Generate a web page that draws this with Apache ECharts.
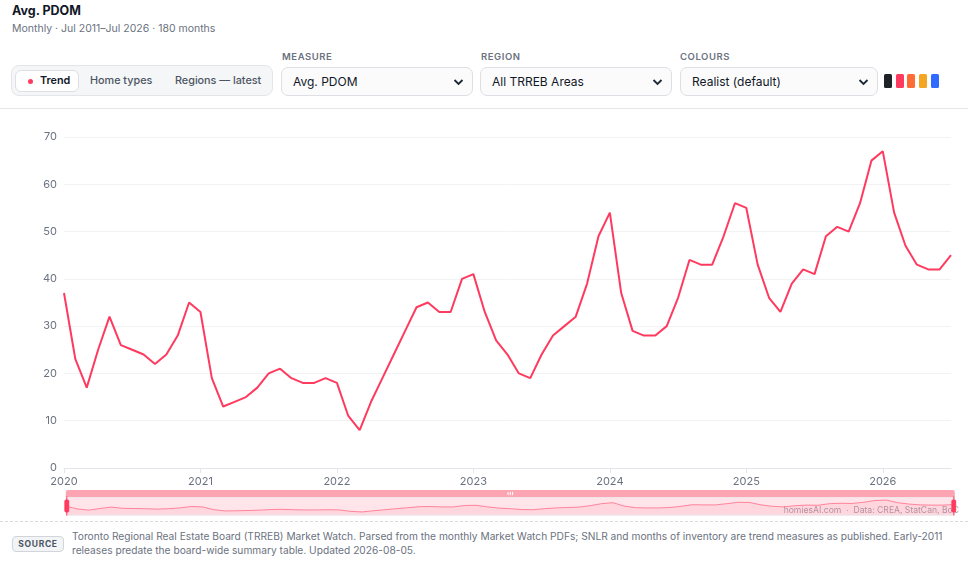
<!DOCTYPE html>
<html>
<head>
<meta charset="utf-8">
<title>Avg. PDOM</title>
<script src="https://cdn.jsdelivr.net/npm/echarts@6/dist/echarts.min.js"></script>
<style>
  html, body { margin: 0; padding: 0; background: #fff; }
  body { width: 980px; height: 568px; position: relative; overflow: hidden;
         font-family: Inter, "Noto Sans", sans-serif; color: #111827; }
  .abs { position: absolute; }
  #title { left: 12px; top: 2px; font-size: 12.5px; font-weight: 700; line-height: 18px; }
  #subtitle { left: 12px; top: 21px; font-size: 10.5px; color: #6b7280; line-height: 16px; }
  .lbl { top: 51px; font-size: 9.5px; font-weight: 600; color: #6b7280; letter-spacing: 0.06em; line-height: 12px; }
  .seg { left: 11px; top: 65px; width: 262px; height: 31px; box-sizing: border-box;
         background: #f5f6f7; border: 1px solid #e3e5e8; border-radius: 8px; }
  .tab { position: absolute; top: 4px; height: 22px; line-height: 22px; font-size: 10.8px;
         font-weight: 500; color: #4b5563; }
  .tab.on { background: #fff; border: 1px solid #dcdfe4; border-radius: 6px; box-sizing: border-box;
            color: #111827; font-weight: 600; line-height: 20px; padding-left: 24px; }
  .dot { position: absolute; left: 12px; top: 8px; width: 5px; height: 5px; border-radius: 50%; background: #ff3a5f; }
  .sel { top: 67px; height: 29px; box-sizing: border-box; background: #fbfbfc; border: 1px solid #dcdfe4;
         border-radius: 7px; font-size: 12px; line-height: 28px; padding-left: 11px; color: #111827; }
  .sel svg { position: absolute; right: 8px; top: 10px; }
  .sw { top: 74px; width: 8px; height: 14px; border-radius: 1.5px; }
  #rule { left: 0; top: 108px; width: 968px; height: 1px; background: #e5e7eb; }
  #chart { left: 0; top: 110px; width: 980px; height: 411px; }
  #dash { left: 0; top: 521px; width: 968px; border-top: 1px dashed #d6d9de; }
  #badge { left: 12px; top: 536px; width: 52px; height: 16px; box-sizing: border-box; border: 1px solid #d1d5db;
           border-radius: 4px; background: #f3f4f6; font-size: 8.5px; font-weight: 700; color: #4b5563;
           letter-spacing: 0.08em; text-align: center; line-height: 14px; }
  #source { left: 72px; top: 530px; font-size: 10.2px; line-height: 13.5px; color: #6b7280; white-space: nowrap; }
</style>
</head>
<body>
<div id="title" class="abs">Avg. PDOM</div>
<div id="subtitle" class="abs">Monthly · Jul 2011–Jul 2026 · 180 months</div>

<div class="abs lbl" style="left:282px">MEASURE</div>
<div class="abs lbl" style="left:481px">REGION</div>
<div class="abs lbl" style="left:680px">COLOURS</div>

<div class="abs seg">
  <div class="tab on" style="left:3px;width:64px"><span class="dot"></span>Trend</div>
  <div class="tab" style="left:78px">Home types</div>
  <div class="tab" style="left:163px">Regions — latest</div>
</div>

<div class="abs sel" style="left:281px;width:192px">Avg. PDOM
  <svg width="11" height="8" viewBox="0 0 11 8"><polyline points="1.5,2 5.5,6 9.5,2" fill="none" stroke="#1f2937" stroke-width="1.8"/></svg></div>
<div class="abs sel" style="left:480px;width:192px">All TRREB Areas
  <svg width="11" height="8" viewBox="0 0 11 8"><polyline points="1.5,2 5.5,6 9.5,2" fill="none" stroke="#1f2937" stroke-width="1.8"/></svg></div>
<div class="abs sel" style="left:680px;width:198px">Realist (default)
  <svg width="11" height="8" viewBox="0 0 11 8"><polyline points="1.5,2 5.5,6 9.5,2" fill="none" stroke="#1f2937" stroke-width="1.8"/></svg></div>

<div class="abs sw" style="left:884px;background:#1f2328"></div>
<div class="abs sw" style="left:896px;background:#ff3a5f"></div>
<div class="abs sw" style="left:907px;background:#ff6b35"></div>
<div class="abs sw" style="left:919px;background:#f5a524"></div>
<div class="abs sw" style="left:931px;background:#2f6bff"></div>

<div id="rule" class="abs"></div>
<div id="chart" class="abs"></div>
<div id="dash" class="abs"></div>

<div id="badge" class="abs">SOURCE</div>
<div id="source" class="abs">Toronto Regional Real Estate Board (TRREB) Market Watch. Parsed from the monthly Market Watch PDFs; SNLR and months of inventory are trend measures as published. Early-2011<br>releases predate the board-wide summary table. Updated 2026-08-05.</div>

<script>
// Avg. PDOM by month (Jan 2020 - Jul 2026)
var years = ['2020', '2021', '2022', '2023', '2024', '2025', '2026'];
var pdom2020 = [37, 23, 17, 25, 32, 26, 25, 24, 22, 24, 28, 35];
var pdom2021 = [33, 19, 13, 14, 15, 17, 20, 21, 19, 18, 18, 19];
var pdom2022 = [18, 11, 8, 14, 19, 24, 29, 34, 35, 33, 33, 40];
var pdom2023 = [41, 33, 27, 24, 20, 19, 24, 28, 30, 32, 39, 49];
var pdom2024 = [54, 37, 29, 28, 28, 30, 36, 44, 43, 43, 49, 56];
var pdom2025 = [55, 43, 36, 33, 39, 42, 41, 49, 51, 50, 56, 65];
var pdom2026 = [67, 54, 47, 43, 42, 42, 45];

var lineColor = '#ff3a5f';

// build month categories + values from the yearly arrays
var perYear = [pdom2020, pdom2021, pdom2022, pdom2023, pdom2024, pdom2025, pdom2026];
var months = [];
var values = [];
perYear.forEach(function (arr, i) {
    arr.forEach(function (v, m) {
        months.push(years[i] + '-' + (m < 9 ? '0' : '') + (m + 1));
        values.push(v);
    });
});

var chart = echarts.init(document.getElementById('chart'));

// only January gets a tick + label
function isJan(index) { return index % 12 === 0; }

var option = {
    animation: false,
    textStyle: { fontFamily: 'Inter, "Noto Sans", sans-serif' },
    grid: { left: 64, right: 29, top: 27, bottom: 53 },
    xAxis: {
        type: 'category',
        data: months,
        boundaryGap: false,
        axisLine: { lineStyle: { color: '#e2e5ea' } },
        axisTick: { show: true, interval: isJan, length: 5, lineStyle: { color: '#e2e5ea' } },
        axisLabel: {
            interval: isJan,
            color: '#6b7280',
            fontSize: 11,
            margin: 8,
            formatter: function (v) { return v.slice(0, 4); }
        },
        splitLine: { show: false }
    },
    yAxis: {
        type: 'value',
        min: 0,
        max: 70,
        interval: 10,
        axisLabel: { color: '#6b7280', fontSize: 11, margin: 7 },
        axisLine: { show: false },
        axisTick: { show: false },
        splitLine: { lineStyle: { color: '#f1f2f4' } }
    },
    dataZoom: [{
        type: 'slider',
        xAxisIndex: 0,
        start: 0,
        end: 100,
        left: 63,
        right: 28,
        bottom: 12,
        height: 19,
        showDetail: false,
        brushSelect: true,
        borderColor: '#e5e7eb',
        backgroundColor: 'rgba(255,58,95,0.04)',
        fillerColor: 'rgba(255,58,95,0.10)',
        handleStyle: { color: lineColor, borderColor: lineColor },
        moveHandleSize: 7,
        moveHandleStyle: { color: '#fda4b3', opacity: 1 },
        emphasis: { moveHandleStyle: { color: '#fda4b3' } },
        dataBackground: {
            lineStyle: { color: lineColor, opacity: 0.5, width: 1 },
            areaStyle: { color: lineColor, opacity: 0.08 }
        },
        selectedDataBackground: {
            lineStyle: { color: lineColor, opacity: 0.55, width: 1 },
            areaStyle: { color: lineColor, opacity: 0.08 }
        }
    }],
    graphic: [{
        type: 'text',
        right: 21,
        top: 396,
        z: 1,
        style: {
            text: 'homiesAI.com  ·  Data: CREA, StatCan, BoC',
            fill: '#a1a7b0',
            fontSize: 8.6,
            fontFamily: 'Inter, "Noto Sans", sans-serif'
        }
    }],
    series: [{
        name: 'Avg. PDOM',
        type: 'line',
        data: values,
        showSymbol: false,
        lineStyle: { color: lineColor, width: 2 },
        itemStyle: { color: lineColor }
    }]
};

chart.setOption(option);
</script>
</body>
</html>
